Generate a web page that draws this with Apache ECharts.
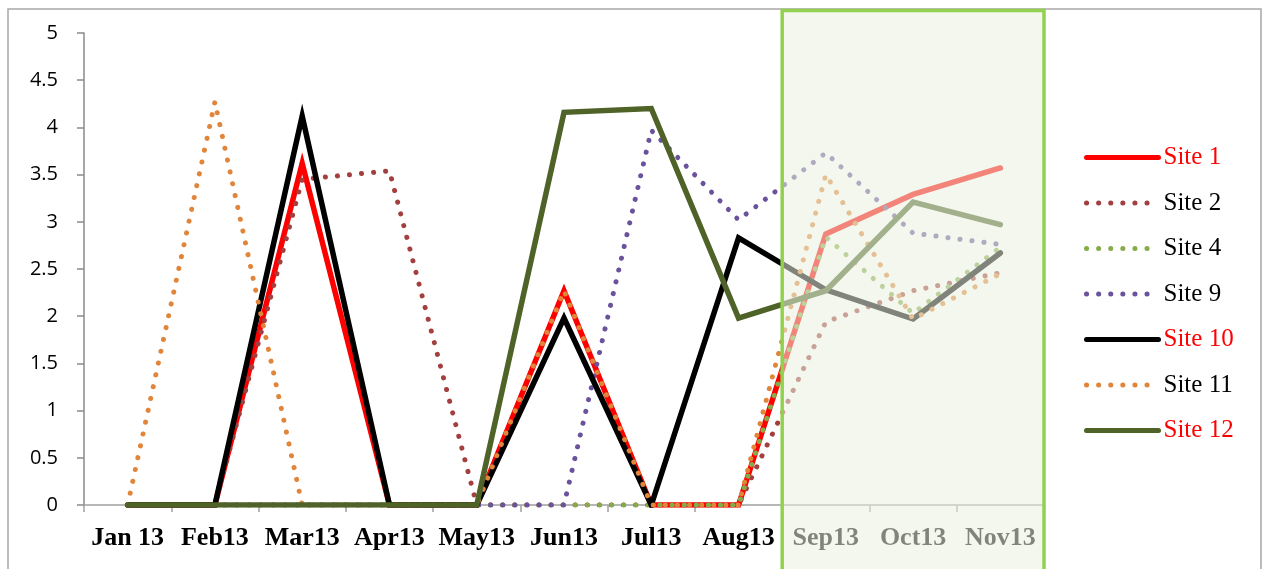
<!DOCTYPE html>
<html><head><meta charset="utf-8">
<script src="https://cdn.jsdelivr.net/npm/echarts@6/dist/echarts.min.js"></script>
<style>html,body{margin:0;padding:0;background:#fff}#c{width:1263px;height:569px}</style>
</head><body><div id="c"></div>
<script>
const categories = ['Jan 13','Feb13','Mar13','Apr13','May13','Jun13','Jul13','Aug13','Sep13','Oct13','Nov13'];
const site1  = [0,0,3.62,0,0,2.27,0,0,2.87,3.29,3.57];
const site2  = [0,0,3.45,3.54,0,0,0,0,1.94,2.27,2.46];
const site4  = [0,0,0,0,0,0,0,0,2.84,2.03,2.73];
const site9  = [0,0,0,0,0,0,3.97,3.02,3.73,2.88,2.76];
const site10 = [0,0,4.12,0,0,1.98,0,2.83,2.28,1.97,2.67];
const site11 = [0,4.27,0,0,0,2.27,0,0,3.50,1.97,2.45];
const site12 = [0,0,0,0,0,4.16,4.20,1.98,2.27,3.21,2.97];

const names = ['Site 1','Site 2','Site 4','Site 9','Site 10','Site 11','Site 12'];
const values = [site1,site2,site4,site9,site10,site11,site12];
const colors = ['#ff0000','#a3403f','#86ac4a','#6a529c','#000000','#e0853a','#4f6228'];
const dotted = [false,true,true,true,false,true,false];
const labelRed = [true,false,false,false,true,false,true];

const chart = echarts.init(document.getElementById('c'), null, {renderer:'canvas'});
const series = names.map((n,i)=>({
  name:n, type:'line', data:values[i], symbol:'none', smooth:false,
  lineStyle: dotted[i]
    ? {color:colors[i], width:5, type:[0.1,12], cap:'round', join:'round'}
    : {color:colors[i], width:5.5, type:'solid', cap:'round', join:'miter'},
  itemStyle:{color:colors[i]},
  z: 2 + i
}));

chart.setOption({
  animation:false,
  backgroundColor:'#ffffff',
  grid:{left:84, right:219, top:33, bottom:64, containLabel:false},
  xAxis:{
    type:'category', data:categories, boundaryGap:true,
    axisLine:{lineStyle:{color:'#a0a0a0', width:1.5}},
    axisTick:{show:true, alignWithLabel:false, length:7, lineStyle:{color:'#a0a0a0', width:1.5}},
    axisLabel:{interval:0, margin:20, color:'#000', fontFamily:'Liberation Serif', fontWeight:'bold', fontSize:26},
    splitLine:{show:false}
  },
  yAxis:{
    type:'value', min:0, max:5, interval:0.5,
    axisLine:{show:true, lineStyle:{color:'#8a8a8a', width:1.5}},
    axisTick:{show:true, length:7, lineStyle:{color:'#8a8a8a', width:1.5}},
    axisLabel:{show:true, margin:26, color:'#000', fontFamily:'Open Sans', fontSize:20},
    splitLine:{show:false}
  },
  legend:{
    orient:'vertical', left:1079, top:140, itemWidth:72, itemHeight:20, itemGap:20.5,
    itemStyle:{opacity:0},
    lineStyle:{width:5},
    textStyle:{fontFamily:'Liberation Serif', fontSize:25, lineHeight:25, color:'#000'},
    data: names.map((n,i)=>({name:n, textStyle:{color: labelRed[i] ? '#ff0000' : '#000000'}}))
  },
  series: series
});

const xA = chart.convertToPixel({xAxisIndex:0}, 'Sep13');
const xB = chart.convertToPixel({xAxisIndex:0}, 'Oct13');
const xN = chart.convertToPixel({xAxisIndex:0}, 'Nov13');
const bw = xB - xA;
const boxL = xA - bw/2, boxR = xN + bw/2;

chart.setOption({
  graphic:[
    {type:'rect', z:-10, silent:true, shape:{x:8, y:9, width:1253, height:620},
      style:{fill:'none', stroke:'#a8a8a8', lineWidth:1.5}},
    {type:'rect', z:100, silent:true, shape:{x:boxL, y:10.5, width:boxR-boxL, height:620},
      style:{fill:'rgba(233,240,222,0.55)', stroke:'#92d050', lineWidth:3.5}}
  ]
});
</script></body></html>
